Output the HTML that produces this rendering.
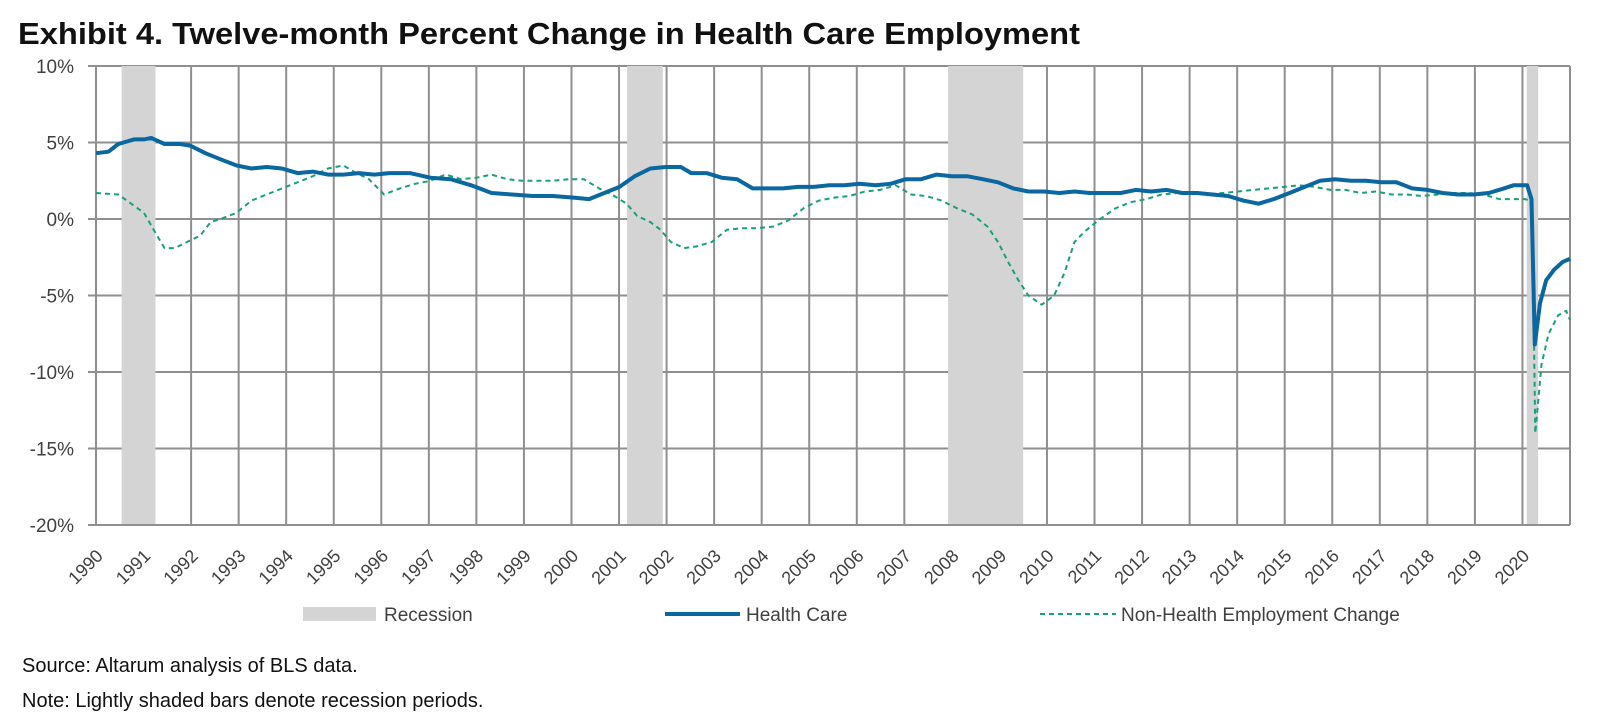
<!DOCTYPE html>
<html><head><meta charset="utf-8">
<style>
html,body{margin:0;padding:0;background:#fff;}
svg{display:block;font-family:"Liberation Sans",Arial,sans-serif;}
</style></head>
<body>
<svg id="chart" width="1600" height="721" viewBox="0 0 1600 721">
<text x="18" y="44" font-size="31" font-weight="bold" fill="#111" textLength="1062" lengthAdjust="spacingAndGlyphs">Exhibit 4. Twelve-month Percent Change in Health Care Employment</text>
<g id="grid"></g>
<g id="rec"></g>
<g id="series"></g>
<g id="axes"></g>
<g>
<rect x="303" y="607" width="73" height="14" fill="#d4d4d4"/>
<text x="384" y="621" font-size="19" fill="#404040">Recession</text>
<line x1="665" y1="614" x2="740" y2="614" stroke="#0a67a0" stroke-width="4"/>
<text x="746" y="621" font-size="19" fill="#404040">Health Care</text>
<line x1="1040" y1="614" x2="1116" y2="614" stroke="#17a07c" stroke-width="2" stroke-dasharray="5,4"/>
<text x="1121" y="621" font-size="19" fill="#404040">Non-Health Employment Change</text>
</g>
<text x="22" y="672" font-size="20" fill="#111">Source: Altarum analysis of BLS data.</text>
<text x="22" y="707" font-size="20" fill="#111">Note: Lightly shaded bars denote recession periods.</text>
</svg>
<script>
const yTicks = [10, 5, 0, -5, -10, -15, -20];
const yTickLabels = ["10%", "5%", "0%", "-5%", "-10%", "-15%", "-20%"];
const yearTicks = [1990,1991,1992,1993,1994,1995,1996,1997,1998,1999,2000,2001,2002,2003,2004,2005,2006,2007,2008,2009,2010,2011,2012,2013,2014,2015,2016,2017,2018,2019,2020];
const recStart = [1990.54, 2001.17, 2007.92, 2020.09];
const recEnd = [1991.25, 2001.92, 2009.5, 2020.33];
const hcX = [1990.00,1990.26,1990.47,1990.80,1991.01,1991.16,1991.44,1991.76,1991.98,1992.30,1992.62,1992.95,1993.27,1993.59,1993.91,1994.24,1994.56,1994.88,1995.20,1995.53,1995.85,1996.17,1996.60,1997.03,1997.46,1997.89,1998.32,1998.75,1999.18,1999.61,2000.04,2000.37,2000.69,2001.01,2001.33,2001.66,2001.98,2002.30,2002.52,2002.84,2003.16,2003.48,2003.81,2004.13,2004.45,2004.77,2005.10,2005.42,2005.74,2006.06,2006.39,2006.71,2007.03,2007.35,2007.68,2008.00,2008.32,2008.65,2008.97,2009.29,2009.61,2009.94,2010.26,2010.58,2010.90,2011.23,2011.55,2011.87,2012.19,2012.52,2012.84,2013.16,2013.48,2013.81,2014.13,2014.45,2014.77,2015.10,2015.42,2015.74,2016.06,2016.39,2016.71,2017.03,2017.35,2017.68,2018.00,2018.32,2018.65,2018.97,2019.29,2019.61,2019.81,2020.02,2020.10,2020.19,2020.26,2020.37,2020.50,2020.67,2020.85,2021.00];
const hcY = [4.3,4.4,4.9,5.2,5.2,5.3,4.9,4.9,4.8,4.3,3.9,3.5,3.3,3.4,3.3,3.0,3.1,2.9,2.9,3.0,2.9,3.0,3.0,2.7,2.6,2.2,1.7,1.6,1.5,1.5,1.4,1.3,1.7,2.1,2.8,3.3,3.4,3.4,3.0,3.0,2.7,2.6,2.0,2.0,2.0,2.1,2.1,2.2,2.2,2.3,2.2,2.3,2.6,2.6,2.9,2.8,2.8,2.6,2.4,2.0,1.8,1.8,1.7,1.8,1.7,1.7,1.7,1.9,1.8,1.9,1.7,1.7,1.6,1.5,1.2,1.0,1.3,1.7,2.1,2.5,2.6,2.5,2.5,2.4,2.4,2.0,1.9,1.7,1.6,1.6,1.7,2.0,2.2,2.2,2.2,1.3,-8.2,-5.5,-4.0,-3.3,-2.8,-2.6];
const nhX = [1990.00,1990.47,1991.01,1991.23,1991.44,1991.66,1991.98,1992.19,1992.41,1992.62,1992.95,1993.27,1993.59,1993.91,1994.24,1994.56,1994.88,1995.20,1995.42,1995.74,1996.06,1996.39,1996.71,1997.03,1997.35,1997.68,1998.00,1998.32,1998.65,1998.97,1999.29,1999.61,1999.94,2000.26,2000.58,2000.90,2001.16,2001.38,2001.66,2001.87,2002.09,2002.37,2002.62,2002.95,2003.27,2003.59,2003.91,2004.24,2004.56,2004.88,2005.20,2005.53,2005.85,2006.17,2006.49,2006.82,2007.14,2007.46,2007.78,2008.11,2008.43,2008.75,2008.97,2009.18,2009.40,2009.61,2009.89,2010.15,2010.37,2010.58,2010.80,2011.12,2011.44,2011.76,2012.09,2012.41,2012.73,2013.05,2013.38,2013.70,2014.02,2014.34,2014.67,2014.99,2015.31,2015.63,2015.96,2016.28,2016.60,2016.92,2017.25,2017.57,2017.89,2018.22,2018.54,2018.86,2019.18,2019.51,2019.83,2020.05,2020.17,2020.22,2020.27,2020.40,2020.55,2020.75,2020.92,2021.00];
const nhY = [1.7,1.6,0.4,-0.8,-1.9,-1.9,-1.4,-1.1,-0.2,0.0,0.4,1.2,1.6,2.0,2.4,2.8,3.3,3.5,3.1,2.6,1.6,2.0,2.3,2.5,2.9,2.6,2.7,2.9,2.6,2.5,2.5,2.5,2.6,2.6,2.0,1.5,1.0,0.2,-0.2,-0.7,-1.5,-1.9,-1.8,-1.5,-0.7,-0.6,-0.6,-0.5,-0.1,0.7,1.2,1.4,1.5,1.8,1.9,2.2,1.6,1.5,1.2,0.7,0.3,-0.5,-1.5,-2.8,-4.0,-5.0,-5.6,-5.0,-3.5,-1.5,-0.8,0.0,0.7,1.1,1.3,1.6,1.7,1.8,1.6,1.7,1.8,1.9,2.0,2.1,2.2,2.1,1.9,1.9,1.7,1.8,1.6,1.6,1.5,1.6,1.7,1.7,1.6,1.3,1.3,1.3,1.2,-3.0,-14.0,-9.5,-7.5,-6.3,-6.0,-6.6];

const NS = "http://www.w3.org/2000/svg";
const X0 = 96, X1 = 1570, Y0 = 66, Y1 = 525;
const xMin = 1990, xMax = 2021, yMax = 10, yMin = -20;
function xs(v){ return X0 + (v - xMin) / (xMax - xMin) * (X1 - X0); }
function ys(v){ return Y0 + (yMax - v) / (yMax - yMin) * (Y1 - Y0); }
function mk(tag, attrs, parent){ const e = document.createElementNS(NS, tag); for (const k in attrs) e.setAttribute(k, attrs[k]); parent.appendChild(e); return e; }

const grid = document.getElementById('grid');
yTicks.forEach(function(t){
  const l = mk('line', {x1: X0 - 8, x2: X1, y1: ys(t), y2: ys(t), stroke: '#8f8f8f', 'stroke-width': 2}, grid);
  
  
});
yearTicks.forEach(function(t){
  const l = mk('line', {x1: xs(t), x2: xs(t), y1: Y0, y2: Y1, stroke: '#8f8f8f', 'stroke-width': 2}, grid);
  
  
});
const rb = mk('line', {x1: X1, x2: X1, y1: Y0, y2: Y1, stroke: '#8f8f8f', 'stroke-width': 2}, grid);



const rec = document.getElementById('rec');
recStart.forEach(function(s, i){
  const r = mk('rect', {x: xs(s), y: Y0, width: xs(recEnd[i]) - xs(s), height: Y1 - Y0 - 1, fill: '#d4d4d4'}, rec);
  
  
});

const series = document.getElementById('series');
function pathOf(xa, ya){ return xa.map(function(x, i){ return (i ? 'L' : 'M') + xs(x).toFixed(1) + ',' + ys(ya[i]).toFixed(1); }).join(''); }
const nh = mk('path', {d: pathOf(nhX, nhY), fill: 'none', stroke: '#17a07c', 'stroke-width': 2, 'stroke-dasharray': '5,4', 'stroke-linejoin': 'round'}, series);


const hc = mk('path', {d: pathOf(hcX, hcY), fill: 'none', stroke: '#0a67a0', 'stroke-width': 4, 'stroke-linejoin': 'round'}, series);



const axes = document.getElementById('axes');
yTicks.forEach(function(t, i){
  const tx = mk('text', {x: 74, y: ys(t) + 7, 'text-anchor': 'end', 'font-size': 19, fill: '#404040'}, axes);
  tx.textContent = yTickLabels[i];
  
  
});
yearTicks.forEach(function(t){
  const tx = mk('text', {transform: 'translate(' + (xs(t) + 8) + ',557) rotate(-45)', 'text-anchor': 'end', 'font-size': 18, fill: '#404040'}, axes);
  tx.textContent = String(t);
  
  
});
</script>
</body></html>
